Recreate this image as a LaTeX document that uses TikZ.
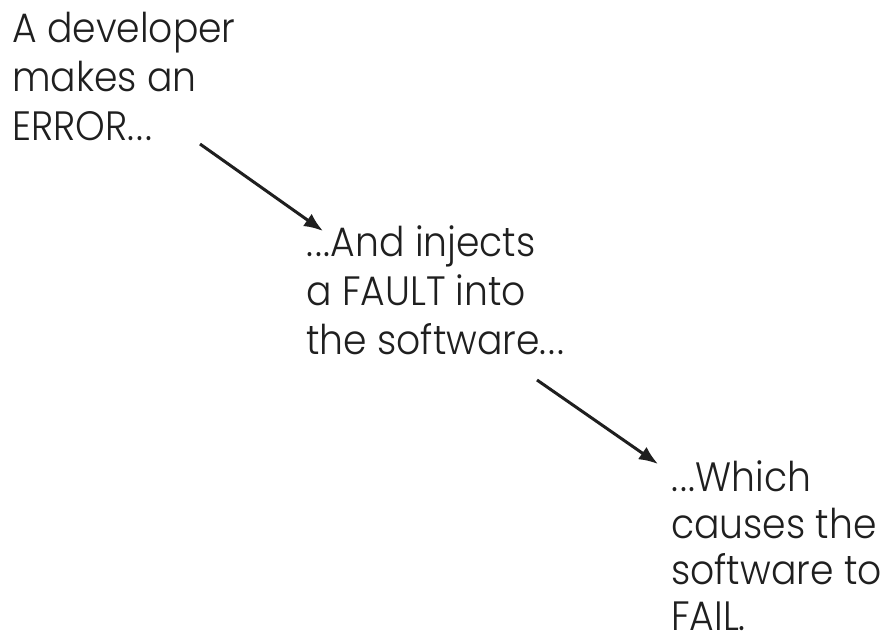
\documentclass[tikz,border=0pt]{standalone}
\usepackage{fontspec}
\setmainfont{Poppins}[UprightFont=* Light, FakeStretch=0.92]
\usetikzlibrary{arrows.meta}
\newcommand{\dd}{.\kern2pt.\kern2pt.}
\begin{document}
\begin{tikzpicture}[x=1pt,y=-1pt,
  lbl/.style={anchor=base west,inner sep=0pt,font=\fontsize{41}{48}\selectfont,text=black!88},
  arr/.style={line width=3pt,draw=black!88,-{Latex[length=19pt,width=15pt]}}]
\useasboundingbox (0,0) rectangle (883,637);
% block 1
\node[lbl] (e1) at (12,42) {A developer};
\node[lbl] (e2) at (12,91) {makes an};
\node[lbl] (e3) at (12,140) {ERROR\dd};
% block 2
\node[lbl] (f1) at (306,256) {\dd And injects};
\node[lbl] (f2) at (306,305) {a FAULT into};
\node[lbl] (f3) at (306,354) {the software\dd};
% block 3
\node[lbl] (g1) at (671,491) {\dd Which};
\node[lbl] (g2) at (671,538) {causes the};
\node[lbl] (g3) at (671,584) {software to};
\node[lbl] (g4) at (671,630) {FAIL.};
% arrows
\coordinate (a1s) at (200,144);
\coordinate (a1e) at (323,231);
\coordinate (a2s) at (537,380);
\coordinate (a2e) at (658,464);
\draw[arr] (a1s) -- (a1e);
\draw[arr] (a2s) -- (a2e);
\end{tikzpicture}
\end{document}
